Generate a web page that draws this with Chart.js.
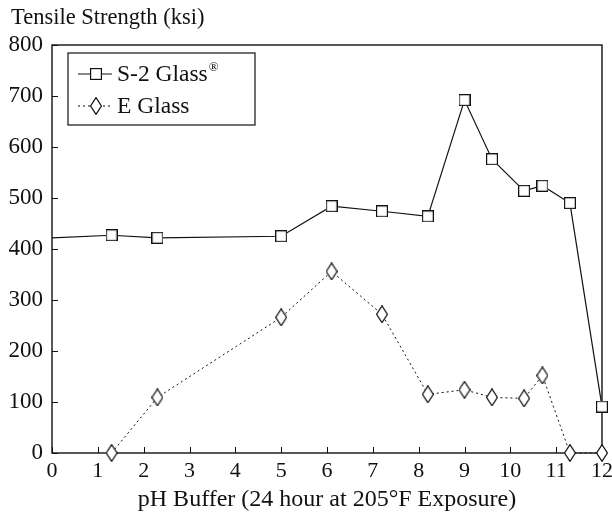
<!DOCTYPE html>
<html>
<head>
<meta charset="utf-8">
<script src="https://cdn.jsdelivr.net/npm/chart.js@4.4.1/dist/chart.umd.min.js"></script>
<style>
  html, body { margin: 0; padding: 0; background: #fff; }
  #wrap { width: 612px; height: 516px; }
</style>
</head>
<body>
<div id="wrap"><canvas id="chart" width="612" height="516"></canvas></div>
<script>
// pH buffer (x) and tensile strength in ksi (y)
const s2Ph = [0, 1.3, 2.3, 5.0, 6.1, 7.2, 8.2, 9.0, 9.6, 10.3, 10.7, 11.3, 12.0];
const s2Strength = [422, 427, 422, 425, 484, 474, 464, 692, 576, 514, 524, 490, 91];
const ePh = [1.3, 2.3, 5.0, 6.1, 7.2, 8.2, 9.0, 9.6, 10.3, 10.7, 11.3, 12.0];
const eStrength = [0, 109, 266, 356, 272, 115, 124, 109, 107, 152, 0, 0];
const xTicks = [0, 1, 2, 3, 4, 5, 6, 7, 8, 9, 10, 11, 12];
const yTicks = [0, 100, 200, 300, 400, 500, 600, 700, 800];

const INK = "#111";
const SERIF = "'Liberation Serif', 'DejaVu Serif', serif";
const yTitle = "Tensile Strength (ksi)";

function makeMarker(w, h, draw) {
  const c = document.createElement("canvas");
  c.width = w;
  c.height = h;
  const g = c.getContext("2d");
  g.fillStyle = "#fff";
  g.strokeStyle = INK;
  g.lineWidth = 1.2;
  draw(g, w, h);
  return c;
}

const squareMark = makeMarker(12, 12, (g, w, h) => {
  g.fillRect(0.5, 0.5, w - 1, h - 1);
  g.strokeRect(0.6, 0.6, w - 1.2, h - 1.2);
});

const diamondMark = makeMarker(12, 18, (g, w, h) => {
  g.beginPath();
  g.moveTo(w / 2, 0.6);
  g.lineTo(w - 0.6, h / 2);
  g.lineTo(w / 2, h - 0.6);
  g.lineTo(0.6, h / 2);
  g.closePath();
  g.fill();
  g.stroke();
});

const toPoints = (xs, ys) => xs.map((x, i) => ({ x, y: ys[i] }));

// frame, inward tick marks and the y title above the axis
const framePlugin = {
  id: "frame",
  beforeDatasetsDraw(chart) {
    const { ctx, chartArea: a, scales } = chart;
    ctx.save();
    ctx.strokeStyle = INK;
    ctx.lineWidth = 1.4;
    ctx.strokeRect(a.left, a.top, a.right - a.left, a.bottom - a.top);
    ctx.lineWidth = 1;
    ctx.beginPath();
    xTicks.forEach(v => {
      const px = Math.round(scales.x.getPixelForValue(v)) + 0.5;
      ctx.moveTo(px, a.bottom);
      ctx.lineTo(px, a.bottom - 6);
    });
    yTicks.forEach(v => {
      const py = Math.round(scales.y.getPixelForValue(v)) + 0.5;
      ctx.moveTo(a.left, py);
      ctx.lineTo(a.left + 6, py);
    });
    ctx.stroke();

    ctx.fillStyle = INK;
    ctx.font = "22.5px " + SERIF;
    ctx.textBaseline = "middle";
    ctx.fillText(yTitle, 11, 18);
    ctx.restore();
  }
};

// boxed legend with line + marker samples
const legendPlugin = {
  id: "boxLegend",
  afterDatasetsDraw(chart) {
    const { ctx, chartArea: a } = chart;
    const left = a.left + 16, top = a.top + 8, w = 187, h = 72;
    ctx.save();
    ctx.fillStyle = "#fff";
    ctx.fillRect(left, top, w, h);
    ctx.strokeStyle = INK;
    ctx.lineWidth = 1.2;
    ctx.strokeRect(left, top, w, h);

    chart.data.datasets.forEach((ds, i) => {
      const cy = top + 21 + i * 32;
      ctx.strokeStyle = INK;
      ctx.lineWidth = 1;
      ctx.setLineDash(ds.borderDash || []);
      ctx.beginPath();
      ctx.moveTo(left + 10, cy);
      ctx.lineTo(left + 44, cy);
      ctx.stroke();
      ctx.setLineDash([]);
      const m = ds.pointStyle;
      ctx.drawImage(m, left + 28 - m.width / 2, cy - m.height / 2);

      ctx.fillStyle = INK;
      ctx.textBaseline = "middle";
      ctx.font = "23.5px " + SERIF;
      const tx = left + 49;
      ctx.fillText(ds.label, tx, cy + 1);
      if (ds.mark) {
        const tw = ctx.measureText(ds.label).width;
        ctx.font = "13px " + SERIF;
        ctx.fillText(ds.mark, tx + tw + 1, cy - 6);
      }
    });
    ctx.restore();
  }
};

new Chart(document.getElementById("chart"), {
  type: "scatter",
  data: {
    datasets: [
      {
        label: "S-2 Glass",
        mark: "\u00ae",
        data: toPoints(s2Ph, s2Strength),
        showLine: true,
        borderColor: INK,
        borderWidth: 1.2,
        pointStyle: squareMark,
        pointRadius: ctx => (ctx.raw && ctx.raw.x === 0 ? 0 : 6),
        clip: false
      },
      {
        label: "E Glass",
        data: toPoints(ePh, eStrength),
        showLine: true,
        borderColor: INK,
        borderWidth: 1,
        borderDash: [2, 3],
        pointStyle: diamondMark,
        pointRadius: 6,
        clip: false
      }
    ]
  },
  options: {
    responsive: false,
    animation: false,
    events: [],
    layout: { padding: { left: 0, right: 10, top: 45, bottom: 0 } },
    scales: {
      x: {
        type: "linear",
        min: 0,
        max: 12,
        afterBuildTicks: s => { s.ticks = xTicks.map(v => ({ value: v })); },
        afterFit: s => { s.height = 63; s.paddingLeft = 0; s.paddingRight = 0; },
        grid: { display: false, drawTicks: false },
        border: { display: false },
        ticks: {
          color: INK,
          autoSkip: false,
          maxRotation: 0,
          padding: 5,
          font: { family: SERIF, size: 22 }
        },
        title: {
          display: true,
          text: "pH Buffer (24 hour at 205\u00b0F Exposure)",
          color: INK,
          padding: { top: 0, bottom: 2 },
          font: { family: SERIF, size: 24 }
        }
      },
      y: {
        min: 0,
        max: 800,
        afterBuildTicks: s => { s.ticks = yTicks.map(v => ({ value: v })); },
        afterFit: s => { s.width = 52; s.paddingTop = 0; },
        grid: { display: false, drawTicks: false },
        border: { display: false },
        ticks: {
          color: INK,
          padding: 9,
          font: { family: SERIF, size: 23 }
        }
      }
    },
    plugins: {
      legend: { display: false },
      tooltip: { enabled: false },
      title: { display: false }
    }
  },
  plugins: [framePlugin, legendPlugin]
});
</script>
</body>
</html>
